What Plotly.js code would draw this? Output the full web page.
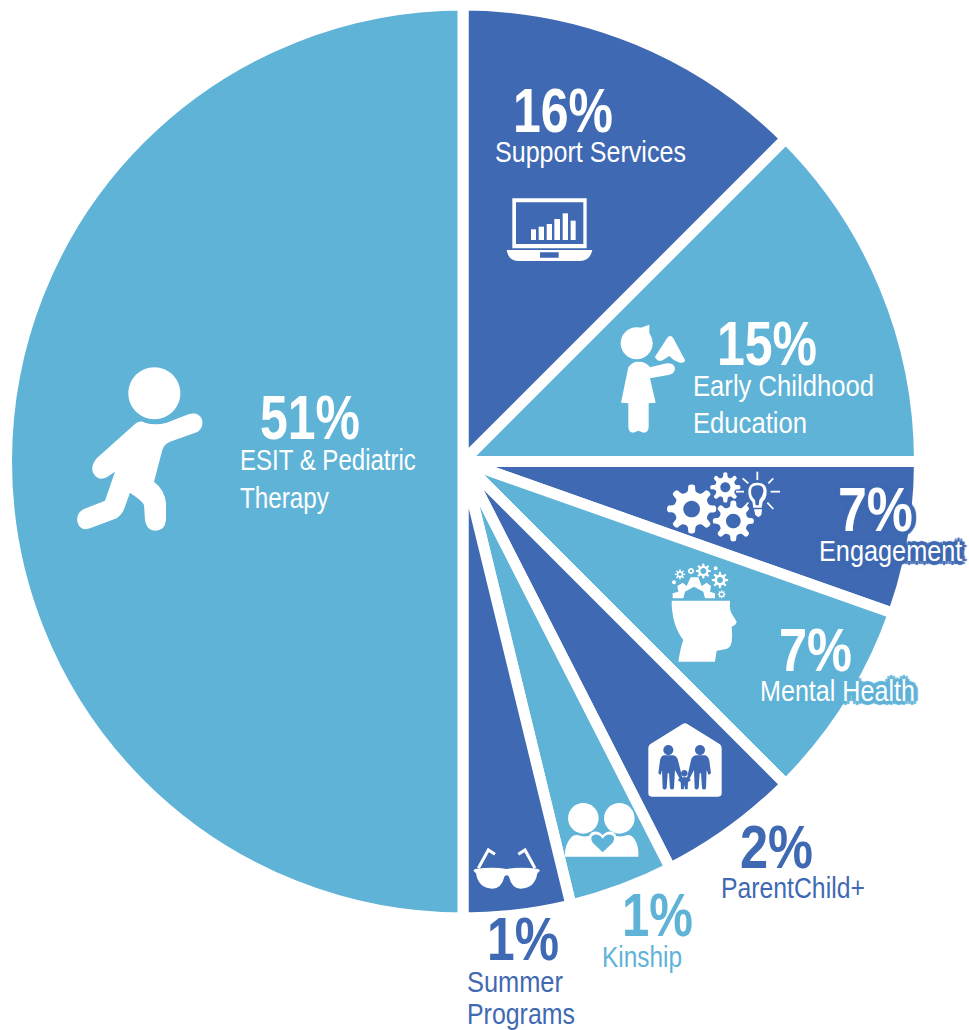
<!DOCTYPE html>
<html><head><meta charset="utf-8">
<script src="https://cdn.plot.ly/plotly-3.0.1.min.js"></script>
<style>html,body{margin:0;padding:0;background:#fff}#chart{width:969px;height:1030px}</style>
</head><body><div id="chart"></div>
<script>
// ---- data ----
var categories = ["Support Services","Early Childhood Education","Engagement","Mental Health","ParentChild+","Kinship","Summer Programs","ESIT & Pediatric Therapy"];
// drawn slice sizes (share of the circle as drawn)
var sliceSizes = [12.5,12.5,5.4,7.1,5.0,3.7,3.8,50.0];
// printed percentages
var percentLabels = ["16%","15%","7%","7%","2%","1%","1%","51%"];
var labelLines = [["Support Services"],["Early Childhood","Education"],["Engagement"],["Mental Health"],["ParentChild+"],["Kinship"],["Summer","Programs"],["ESIT & Pediatric","Therapy"]];

var DARK="#3F69B2", LIGHT="#5FB3D7", WHITE="#FFFFFF";
var sliceColors=[DARK,LIGHT,DARK,LIGHT,DARK,LIGHT,DARK,LIGHT];
var W=969,H=1030;
var cx=463,cy=461.5,R=456.5;

// text placement and set width in pixels
var pctPos=[[513,110.5],[717,343.5],[838,509.5],[779,649.5],[740,846.5],[622,914.5],[487,938.5],[260,418]];
var pctWidths=[100,100,75,73,73,71,72,100];
var linePos=[[[494.5,151.5]],[[693,385.5],[693,423]],[[818.5,550]],[[759.5,690.5]],[[720.5,887]],[[602,956]],[[466.5,981],[466.5,1013]],[[240,459.5],[240,498]]];
var lineWidths=[[191],[181,114],[144],[155],[144],[80],[96,108],[176,89]];
var textColors=[WHITE,WHITE,WHITE,WHITE,DARK,LIGHT,DARK,WHITE];
var halo=[null,null,DARK,LIGHT,null,null,null,null];
var PCT_SIZE=62, LBL_SIZE=30;
var FONT='"Liberation Sans",sans-serif';

function haloCss(c){ if(!c) return 'none';
  var o=[]; [[-3,0],[3,0],[0,-3],[0,3],[-3,-3],[3,-3],[-3,3],[3,3],[-5,0],[5,0],[0,4],[0,-4]].forEach(function(d){o.push(d[0]+'px '+d[1]+'px 1px '+c)});
  return o.join(',');}

var annotations=[],fitWidths=[];
function addText(t,x,y,size,color,bold,sh,w){
  annotations.push({text:bold?'<b>'+t+'</b>':t,x:x/W,y:1-y/H,xref:'paper',yref:'paper',xanchor:'left',yanchor:'middle',showarrow:false,
    borderpad:0,borderwidth:0,align:'left',font:{family:FONT,size:size,color:color,shadow:haloCss(sh)}});
  fitWidths.push(w);
}
categories.forEach(function(c,i){
  addText(percentLabels[i],pctPos[i][0],pctPos[i][1],PCT_SIZE,textColors[i],true,halo[i],pctWidths[i]);
  labelLines[i].forEach(function(l,j){ addText(l,linePos[i][j][0],linePos[i][j][1],LBL_SIZE,textColors[i],false,halo[i],lineWidths[i][j]); });
});

// ---- icon helpers: pixel drawings converted to paper space ----
var shapes=[];
function toPaper(d){
  return d.replace(/([MLCQ])([^MLCQZ]*)/g,function(m,c,a){
    var n=a.trim().split(/[\s,]+/).map(Number),o=[];
    for(var i=0;i<n.length;i+=2)o.push((n[i]/W).toFixed(5)+','+(1-n[i+1]/H).toFixed(5));
    return c+o.join(' ');
  });
}
function add(d,color){shapes.push({type:'path',xref:'paper',yref:'paper',path:toPaper(d),fillcolor:color,line:{width:0},layer:'above',fillrule:'evenodd'});}
function stroke(d,color,w){shapes.push({type:'path',xref:'paper',yref:'paper',path:toPaper(d),line:{width:w,color:color},fillcolor:'rgba(0,0,0,0)',layer:'above'});}
function circ(x,y,r){var k=0.5523*r;return 'M'+(x-r)+','+y+' C'+(x-r)+','+(y-k)+' '+(x-k)+','+(y-r)+' '+x+','+(y-r)+' C'+(x+k)+','+(y-r)+' '+(x+r)+','+(y-k)+' '+(x+r)+','+y+' C'+(x+r)+','+(y+k)+' '+(x+k)+','+(y+r)+' '+x+','+(y+r)+' C'+(x-k)+','+(y+r)+' '+(x-r)+','+(y+k)+' '+(x-r)+','+y+' Z ';}
function poly(p){return 'M'+p.map(function(q){return q[0]+','+q[1]}).join(' L')+' Z ';}
function smooth(p){var n=p.length,d='M'+p[0][0]+','+p[0][1];
  for(var i=0;i<n;i++){var a=p[(i-1+n)%n],b=p[i],c=p[(i+1)%n],e=p[(i+2)%n];
    d+=' C'+(b[0]+(c[0]-a[0])/6)+','+(b[1]+(c[1]-a[1])/6)+' '+(c[0]-(e[0]-b[0])/6)+','+(c[1]-(e[1]-b[1])/6)+' '+c[0]+','+c[1];}
  return d+' Z ';}
function map(o,pts){return pts.map(function(q){return [o[0]+q[0]/3,o[1]+q[1]/3]});}
// a path written in the coordinates of a 3x crop whose corner is o
function zp(o,d){return d.replace(/([MLCQ])([^MLCQZ]*)/g,function(m,c,a){
    var n=a.trim().split(/[\s,]+/).map(Number),r=[];
    for(var i=0;i<n.length;i+=2)r.push((o[0]+n[i]/3)+','+(o[1]+n[i+1]/3));
    return c+r.join(' ')+' ';});}
function gear(x,y,Ro,Ri,hole,n){
  var p=[],st=2*Math.PI/n;
  for(var i=0;i<n;i++){var a=i*st-Math.PI/2;
    [[-0.30,Ri],[-0.15,Ro],[0.15,Ro],[0.30,Ri]].forEach(function(q){p.push([x+q[1]*Math.cos(a+q[0]*st),y+q[1]*Math.sin(a+q[0]*st)])});}
  return smooth(p)+(hole?circ(x,y,hole):'');
}
function zr(o,x0,y0,x1,y1){return poly(map(o,[[x0,y0],[x1,y0],[x1,y1],[x0,y1]]));}

// laptop
var ZL=[480,70];
add(zr(ZL,97,385,320,535)+zr(ZL,108,397,310,522),WHITE);
[[153,168,478],[176,192,470],[200,216,462],[223,240,447],[248,264,430],[272,287,452]].forEach(function(b){add(zr(ZL,b[0],b[2],b[1],510),WHITE);});
add(zp(ZL,'M80,540 L180,540 L337,540 Q330,573 300,573 L118,573 Q85,573 80,540 Z ')+zr(ZL,180,547,236,563),WHITE);

// child with triangle
var ZC=[600,310];
var c1=map(ZC,[[110,100]])[0];
add(circ(c1[0],c1[1],16),WHITE);
add(poly(map(ZC,[[118,55],[148,44],[148,80],[130,80]])),WHITE);
add(zp(ZC,'M85,172 Q95,155 115,155 Q140,155 150,172 L200,160 Q225,158 225,178 Q222,193 205,195 L150,205 L167,278 L146,280 L146,350 Q146,368 130,368 L115,362 L100,368 Q85,368 85,350 L85,280 L63,278 Z'),WHITE);
add(zp(ZC,'M203,82 Q212,72 220,85 L255,150 Q255,160 240,158 Q225,155 208,138 L185,152 Q170,155 165,140 Z'),WHITE);

// runner
var ZR=[60,350];
var c2=map(ZR,[[283,130]])[0];
add(circ(c2[0],c2[1],26),WHITE);
add(zp(ZR,'M225,222 Q240,210 255,218 Q285,228 320,218 L385,193 Q415,183 426,208 Q432,235 410,247 L330,275 Q312,282 307,300 L282,395 Q315,420 318,460 L318,510 Q315,542 285,542 Q258,540 255,510 L252,465 Q250,455 210,428 L192,478 Q185,495 170,505 L90,535 Q60,545 52,515 Q48,490 70,478 L135,452 L165,365 L140,382 Q115,395 100,370 Q90,350 110,325 Z'),WHITE);

// gears and bulb
var ZG=[650,460];
function gearZ(z,x,y,Ro,Ri,hole,n){var c=map(z,[[x,y]])[0];add(gear(c[0],c[1],Ro/3,Ri/3,hole/3,n),WHITE);}
gearZ(ZG,125,147,72,54,25,8);
gearZ(ZG,226,82,44,32,15,8);
gearZ(ZG,250,183,60,45,22,8);
add(zp(ZG,'M295,95 Q295,68 322,68 Q350,68 350,95 Q350,115 338,125 L335,143 L310,143 L307,125 Q295,115 295,95 Z ')+zp(ZG,'M303,95 Q303,76 322,76 Q342,76 340,95 Q338,110 328,120 L326,136 L317,136 L315,120 Q303,110 303,95 Z '),WHITE);
add(poly(map(ZG,[[312,148],[336,148],[334,165],[325,172],[316,165]])),WHITE);
[[[322,35],[322,60]],[[355,70],[370,55]],[[362,95],[390,95]],[[352,128],[370,147]],[[295,128],[278,147]],[[282,95],[258,95]],[[295,70],[278,55]]].forEach(function(l){
  var q=map(ZG,l);stroke('M'+q[0][0]+','+q[0][1]+' L'+q[1][0]+','+q[1][1],WHITE,1.8);});

// head with gears
add(zp(ZG,'M65,422 L240,422 Q238,440 242,455 L260,485 Q258,495 245,500 Q248,525 245,545 Q242,565 225,568 L200,572 L195,605 L85,605 Q92,560 100,540 Q65,495 65,422 Z'),WHITE);
add(poly(map(ZG,[[68,415],[68,400],[85,395],[82,378],[98,368],[110,378],[122,352],[145,352],[155,378],[170,368],[183,378],[180,395],[195,400],[195,415],[165,415],[160,395],[132,380],[105,395],[100,415]])),WHITE);
gearZ(ZG,90,343,15,10,5,8);
gearZ(ZG,160,333,22,16,9,8);
gearZ(ZG,210,360,24,17,9,8);
gearZ(ZG,215,403,12,9,5,8);
[[123,333,9,4],[197,325,6,0],[72,367,6,0]].forEach(function(r){var c=map(ZG,[[r[0],r[1]]])[0];add(circ(c[0],c[1],r[2]/3)+(r[3]?circ(c[0],c[1],r[3]/3):''),WHITE);});

// family in a house
var ZH=[460,720];
add(zp(ZH,'M565,85 Q565,75 575,70 L668,12 Q675,8 682,12 L775,70 Q785,75 785,85 L785,220 Q785,230 775,230 L575,230 Q565,230 565,220 Z'),WHITE);
[[625,90],[720,90]].forEach(function(h){var c=map(ZH,[h])[0];add(circ(c[0],c[1],5),DARK);});
var c3=map(ZH,[[673,160]])[0];add(circ(c3[0],c3[1],3.3),DARK);
add(zp(ZH,'M612,106 L640,106 Q652,108 655,125 L665,165 L668,178 L660,178 L645,150 L642,205 Q636,212 630,205 L627,160 L623,160 L620,205 Q614,212 608,205 L606,150 L602,165 L595,160 L600,122 Q602,108 612,106 Z'),DARK);
add(zp(ZH,'M707,106 L735,106 Q745,108 748,122 L753,160 L746,165 L740,150 L738,205 Q732,212 726,205 L723,160 L719,160 L716,205 Q710,212 704,205 L702,150 L688,178 L680,178 L683,165 L692,125 Q695,108 707,106 Z'),DARK);
add(poly(map(ZH,[[662,172],[684,172],[693,180],[684,187],[683,208],[675,208],[673,195],[671,208],[663,208],[662,187],[653,180]])),DARK);

// two people and a heart
[[370,295],[478,295]].forEach(function(h){var c=map(ZH,[h])[0];add(circ(c[0],c[1],15.3),WHITE);});
add(zp(ZH,'M315,410 Q312,375 335,350 Q345,342 355,346 Q370,352 390,347 Q410,340 428,350 Q445,340 465,347 Q485,352 500,346 Q512,342 522,355 Q538,380 535,410 Z'),WHITE);
add(zp(ZH,'M428,346 Q442,330 460,337 Q478,348 465,372 L428,406 L391,372 Q378,348 396,337 Q414,330 428,346 Z'),WHITE);
add(zp(ZH,'M428,356 Q440,340 455,345 Q468,352 458,368 L428,397 L398,368 Q388,352 401,345 Q416,340 428,356 Z'),LIGHT);

// sunglasses
add(zp(ZH,'M40,452 L45,447 Q100,440 140,447 Q180,440 235,447 L240,452 L232,460 Q225,505 182,506 Q155,505 147,470 Q140,462 133,470 Q125,505 97,506 Q55,505 48,460 Z'),WHITE);
[[[55,445],[85,390],[105,403]],[[225,445],[195,390],[175,403]]].forEach(function(l){var q=map(ZH,l);
  stroke('M'+q[0][0]+','+q[0][1]+' L'+q[1][0]+','+q[1][1]+' L'+q[2][0]+','+q[2][1],WHITE,3);});

var trace={type:'pie',labels:categories,values:sliceSizes,sort:false,direction:'clockwise',rotation:0,
  textinfo:'none',hoverinfo:'label',showlegend:false,
  marker:{colors:sliceColors,line:{color:'#FFFFFF',width:11}},
  domain:{x:[(cx-R)/W,(cx+R)/W],y:[1-(cy+R)/H,1-(cy-R)/H]}};
var layout={width:W,height:H,margin:{l:0,r:0,t:0,b:0},paper_bgcolor:'#fff',showlegend:false,annotations:annotations,shapes:shapes};
Plotly.newPlot('chart',[trace],layout,{displayModeBar:false,responsive:false}).then(function(){
  // the reference sets its text in a condensed face: squeeze each real text to its measured width
  document.querySelectorAll('#chart .annotation-text').forEach(function(t,i){
    var bb=t.getBBox(),s=fitWidths[i]/bb.width;
    t.setAttribute('transform','translate('+(bb.x*(1-s))+',0) scale('+s+',1)');
  });
});
</script></body></html>
